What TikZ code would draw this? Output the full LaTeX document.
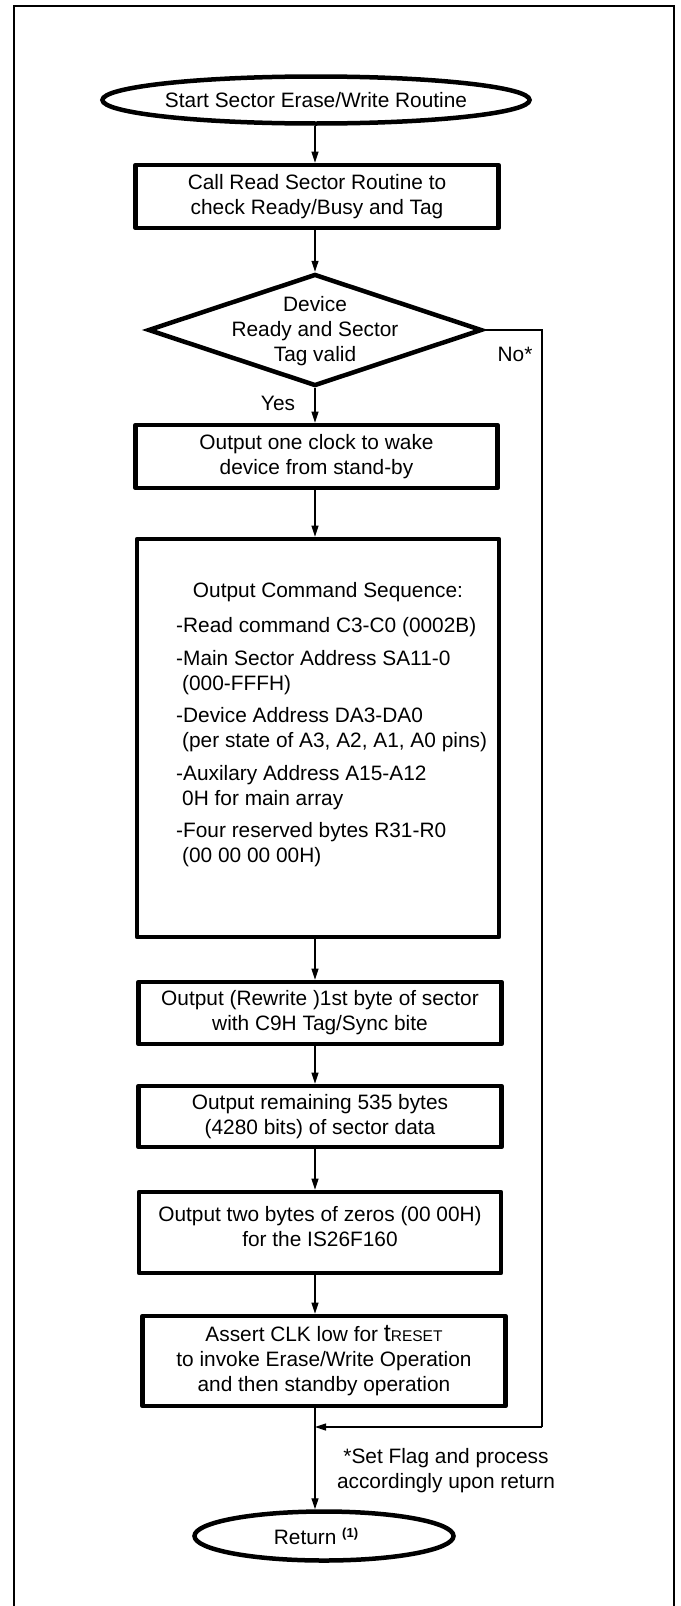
\documentclass[tikz,border=0pt]{standalone}
\usepackage{fontspec}
\setmainfont{Liberation Sans}
\usetikzlibrary{arrows.meta,shapes.geometric}
\tikzset{
  txt/.style={font=\fontsize{20.85}{25}\selectfont, inner sep=0pt, align=center},
  boxline/.style={draw, line width=4.7pt, line join=round},
  procbox/.style={txt, boxline, rectangle, minimum width=#1},
  procbox/.default=363,
  term/.style={txt, draw, line width=4.5pt, ellipse, inner sep=0pt},
  decide/.style={draw, line width=4.5pt, diamond, inner sep=0pt},
  arr/.style={line width=1.2pt, -{Triangle[length=11pt,width=7pt]}},
  thinline/.style={line width=1.2pt},
  frameline/.style={line width=2.8pt}
}
\begin{document}
\begin{tikzpicture}[x=1pt,y=-1pt]
\useasboundingbox (0,0) rectangle (680,1606);
% frame
\draw[frameline] (14,1610) -- (14,6) -- (674,6) -- (674,1610);
% spine coordinates
\coordinate (spine) at (315,0);
\coordinate (rx) at (542,0);
\coordinate (merge) at (315,1427);

\node[term, minimum width=361, minimum height=47] (start) at (316,100) {Start Sector Erase/Write Routine};
\node[procbox, minimum height=63] (b1) at (317,196.5) {Call Read Sector Routine to\\check Ready/Busy and Tag};
\node[decide, minimum width=334, minimum height=112] (dec) at (315,330) {};
\node[txt] (dectext) at (315,331) {Device\\Ready and Sector\\Tag valid};
\node[procbox=362, minimum height=63] (b2) at (316.5,456.5) {Output one clock to wake\\device from stand-by};
\node[boxline, rectangle, minimum width=362, minimum height=398, inner sep=0pt] (big) at (318,738) {};
\node[txt] (cmdtitle) at (328,592) {Output Command Sequence:};
\node[txt, anchor=base west] (c1) at (176,632.5) {-Read command C3-C0 (0002B)};
\node[txt, anchor=base west] (c2) at (176,665.5) {-Main Sector Address SA11-0};
\node[txt, anchor=base west] (c3) at (182,690.5) {(000-FFFH)};
\node[txt, anchor=base west] (c4) at (176,722.5) {-Device Address DA3-DA0};
\node[txt, anchor=base west] (c5) at (182,747.5) {(per state of A3, A2, A1, A0 pins)};
\node[txt, anchor=base west] (c6) at (176,780.5) {-Auxilary Address A15-A12};
\node[txt, anchor=base west] (c7) at (182,805.5) {0H for main array};
\node[txt, anchor=base west] (c8) at (176,837.5) {-Four reserved bytes R31-R0};
\node[txt, anchor=base west] (c9) at (182,862.5) {(00 00 00 00H)};
\node[procbox, minimum height=62] (b3) at (320,1013) {Output (Rewrite )1st byte of sector\\with C9H Tag/Sync bite};
\node[procbox, minimum height=61] (b4) at (320,1116.5) {Output remaining 535 bytes\\(4280 bits) of sector data};
\node[boxline, rectangle, minimum width=362, minimum height=81, inner sep=0pt] (b5) at (320,1232.5) {};
\node[txt] (b5text) at (320,1227) {Output two bytes of zeros (00 00H)\\for the IS26F160};
\node[procbox, minimum height=90] (b6) at (324,1361) {Assert CLK low for {\fontsize{25}{25}\selectfont t}{\fontsize{15.5}{25}\selectfont RESET}\\to invoke Erase/Write Operation\\and then standby operation};
\node[term, minimum width=259, minimum height=49] (ret) at (324,1536) {};
\node[txt] (rettext) at (316,1536) {Return \raisebox{7pt}{\fontsize{13}{13}\selectfont\bfseries (1)}};

% labels
\node[txt] (yes) at (278,403) {Yes};
\node[txt] (no) at (515,354) {No*};
\node[txt] (note) at (446,1471) {*Set Flag and process\\accordingly upon return};

% connectors
\draw[arr] (start.south -| spine) -- (b1.north -| spine);
\draw[arr] (b1.south -| spine) -- (dec.north -| spine);
\draw[arr] (dec.south -| spine) -- (b2.north -| spine);
\draw[arr] (b2.south -| spine) -- (big.north -| spine);
\draw[arr] (big.south -| spine) -- (b3.north -| spine);
\draw[arr] (b3.south -| spine) -- (b4.north -| spine);
\draw[arr] (b4.south -| spine) -- (b5.north -| spine);
\draw[arr] (b5.south -| spine) -- (b6.north -| spine);
\draw[arr] (b6.south -| spine) -- (ret.north -| spine);
\draw[thinline] (dec.east) -- (dec.east -| rx) -- (merge -| rx);
\draw[arr] (merge -| rx) -- (merge);
\end{tikzpicture}
\end{document}
